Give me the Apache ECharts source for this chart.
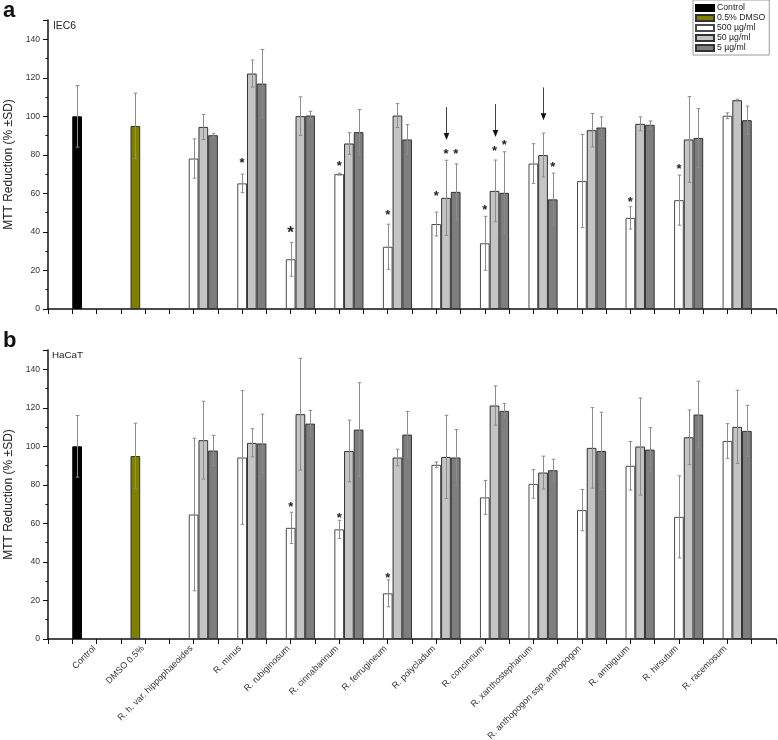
<!DOCTYPE html>
<html>
<head>
<meta charset="utf-8">
<script src="https://cdn.jsdelivr.net/npm/echarts@6/dist/echarts.min.js"></script>
<style>
html,body{margin:0;padding:0;background:#fff;}
#chart{width:778px;height:740px;}
</style>
</head>
<body>
<div id="chart"></div>
<script>
// ---------------- DATA ----------------
const categories = ['Control', 'DMSO 0.5%', 'R. h. var. hippophaeoides', 'R. minus', 'R. rubiginosum',
  'R. cinnabarinum', 'R. ferrugineum', 'R. polycladum', 'R. concinnum', 'R. xanthostephanum',
  'R. anthopogon ssp. anthopogon', 'R. ambiguum', 'R. hirsutum', 'R. racemosum'];
const seriesNames = ['Control', '0.5% DMSO', '500 µg/ml', '50 µg/ml', '5 µg/ml'];
const yTicks = [0, 20, 40, 60, 80, 100, 120, 140];

// Panel a: IEC6
const iecControl    = [100, null, null, null, null, null, null, null, null, null, null, null, null, null];
const iecControlErr = [16, null, null, null, null, null, null, null, null, null, null, null, null, null];
const iecDmso       = [null, 95, null, null, null, null, null, null, null, null, null, null, null, null];
const iecDmsoErr    = [null, 17, null, null, null, null, null, null, null, null, null, null, null, null];
const iec500    = [null, null, 78.1, 65.2, 25.8, 70.0, 32.3, 44.1, 34.1, 75.5, 66.4, 47.3, 56.5, 100.3];
const iec500Err = [null, null, 10.2, 4.8, 8.8, 0.5, 11.7, 6.2, 14.0, 10.3, 24.2, 5.8, 13.0, 1.5];
const iec50     = [null, null, 94.5, 122.2, 100.1, 85.9, 100.4, 57.7, 61.3, 79.9, 92.8, 96.1, 88.0, 108.4];
const iec50Err  = [null, null, 6.5, 7.0, 10.0, 5.6, 6.2, 19.5, 16.0, 11.4, 8.7, 3.6, 22.3, 0.5];
const iec5      = [null, null, 90.2, 117.0, 100.4, 91.8, 88.0, 60.8, 60.3, 56.9, 94.2, 95.6, 88.8, 98.0];
const iec5Err   = [null, null, 1.0, 17.7, 2.2, 11.7, 7.7, 14.5, 21.3, 13.6, 5.5, 2.0, 15.3, 7.3];
// asterisk positions (value at asterisk centre), null = no asterisk
const iecStar500 = [null, null, null, 77.6, 41.8, 75.9, 50.5, 60.3, 53.0, null, null, 57.2, 74.3, null];
const iecStar500Big = [0, 0, 0, 0, 1, 0, 0, 0, 0, 0, 0, 0, 0, 0];
const iecStar50  = [null, null, null, null, null, null, null, 81.9, 83.6, null, null, null, null, null];
const iecStar5   = [null, null, null, null, null, null, null, 81.9, 86.8, 75.2, null, null, null, null];
// arrows above 50 µg/ml bars: [category index, tail value, tip value]
const iecArrows = [[7, 104.8, 87.7], [8, 106.4, 89.3], [9, 115.0, 98.0]];

// Panel b: HaCaT
const hacControl    = [100, null, null, null, null, null, null, null, null, null, null, null, null, null];
const hacControlErr = [16, null, null, null, null, null, null, null, null, null, null, null, null, null];
const hacDmso       = [null, 95, null, null, null, null, null, null, null, null, null, null, null, null];
const hacDmsoErr    = [null, 17, null, null, null, null, null, null, null, null, null, null, null, null];
const hac500    = [null, null, 64.6, 94.2, 57.7, 56.9, 23.7, 90.4, 73.5, 80.5, 66.9, 89.9, 63.4, 102.8];
const hac500Err = [null, null, 39.6, 34.7, 8.1, 4.7, 7.0, 1.5, 8.8, 7.4, 10.7, 12.6, 21.3, 9.0];
const hac50     = [null, null, 103.2, 101.8, 116.7, 97.6, 94.2, 94.5, 121.2, 86.4, 99.2, 99.9, 104.7, 110.1];
const hac50Err  = [null, null, 20.2, 7.3, 29.0, 16.0, 4.3, 21.6, 10.2, 8.5, 20.9, 25.2, 14.2, 19.0];
const hac5      = [null, null, 97.8, 101.5, 111.8, 108.7, 106.1, 94.2, 118.4, 87.6, 97.6, 98.3, 116.5, 108.0];
const hac5Err   = [null, null, 7.9, 15.2, 6.8, 24.3, 12.0, 14.5, 3.8, 5.7, 20.1, 11.4, 17.3, 13.3];
const hacStar500 = [null, null, null, null, 70.0, 64.6, 33.5, null, null, null, null, null, null, null];

// ---------------- STYLES ----------------
const FONT = '"Liberation Sans", Arial, Helvetica, sans-serif';
const barStyles = [
  {color: '#000000', borderColor: '#000000', borderWidth: 1},
  {color: '#808000', borderColor: '#333333', borderWidth: 1},
  {color: '#ffffff', borderColor: '#4a4a4a', borderWidth: 1},
  {color: '#c4c4c4', borderColor: '#333333', borderWidth: 1},
  {color: '#7e7e7e', borderColor: '#333333', borderWidth: 1}
];

const pad = arr => [null].concat(arr, [null]);   // blank end categories
const axisCats = pad(categories.slice()).map(v => v === null ? '' : v);

function errRender(params, api) {
  const cat = api.value(0), v = api.value(1), e = api.value(2), slot = api.value(3);
  const bw = api.size([1, 0])[0];
  const c = api.coord([cat, v]);
  const x = Math.round(c[0] + (slot - 2) * bw / 5) + 0.5;
  const yt = api.coord([cat, v + e])[1];
  const yb = api.coord([cat, v - e])[1];
  const cap = 1.8;
  const st = {stroke: '#8c8c8c', lineWidth: 1};
  return {type: 'group', children: [
    {type: 'line', shape: {x1: x, y1: yt, x2: x, y2: yb}, style: st},
    {type: 'line', shape: {x1: x - cap, y1: yt, x2: x + cap, y2: yt}, style: st},
    {type: 'line', shape: {x1: x - cap, y1: yb, x2: x + cap, y2: yb}, style: st}
  ]};
}
function starRender(params, api) {
  const cat = api.value(0), v = api.value(1), slot = api.value(2), big = api.value(3);
  const bw = api.size([1, 0])[0];
  const c = api.coord([cat, v]);
  const x = c[0] + (slot - 2) * bw / 5;
  const fs = big ? 17 : 13;
  return {type: 'text', x: x, y: c[1] + fs * 0.28,
    style: {text: '*', fontSize: fs, fontWeight: 'bold', fontFamily: FONT, fill: '#222',
      align: 'center', verticalAlign: 'middle'}};
}
function arrowRender(params, api) {
  const cat = api.value(0), tail = api.value(1), tip = api.value(2), slot = api.value(3);
  const bw = api.size([1, 0])[0];
  const x = Math.round(api.coord([cat, tail])[0] + (slot - 2) * bw / 5) + 0.5;
  const yTail = api.coord([cat, tail])[1];
  const yTip = api.coord([cat, tip])[1];
  const hl = 7, hw = 2.8;
  return {type: 'group', children: [
    {type: 'line', shape: {x1: x, y1: yTail, x2: x, y2: yTip - hl + 1}, style: {stroke: '#444', lineWidth: 1}},
    {type: 'polygon', shape: {points: [[x - hw, yTip - hl], [x + hw, yTip - hl], [x, yTip]]}, style: {fill: '#111'}}
  ]};
}

function buildPanel(gi, vals, errs, stars, bigs, arrows) {
  const catAxis = gi * 2, valAxis = gi;
  const out = [];
  vals.forEach((arr, s) => {
    out.push({
      type: 'bar', name: seriesNames[s], xAxisIndex: catAxis, yAxisIndex: valAxis,
      data: pad(arr), barGap: '0%', barCategoryGap: '0%', itemStyle: barStyles[s],
      silent: true, z: 2
    });
  });
  const errData = [];
  vals.forEach((arr, s) => arr.forEach((v, i) => {
    if (v !== null && errs[s][i] !== null) errData.push([i + 1, v, errs[s][i], s]);
  }));
  out.push({type: 'custom', xAxisIndex: catAxis, yAxisIndex: valAxis, renderItem: errRender,
    data: errData, silent: true, z: 3});
  const starData = [];
  stars.forEach((arr, s) => {
    if (!arr) return;
    arr.forEach((v, i) => { if (v !== null) starData.push([i + 1, v, s, (bigs[s] && bigs[s][i]) ? 1 : 0]); });
  });
  out.push({type: 'custom', xAxisIndex: catAxis, yAxisIndex: valAxis, renderItem: starRender,
    data: starData, silent: true, z: 4});
  if (arrows.length) {
    out.push({type: 'custom', xAxisIndex: catAxis, yAxisIndex: valAxis, renderItem: arrowRender,
      data: arrows.map(a => [a[0] + 1, a[1], a[2], 3]), silent: true, z: 4});
  }
  return out;
}

const series = [].concat(
  buildPanel(0, [iecControl, iecDmso, iec500, iec50, iec5],
    [iecControlErr, iecDmsoErr, iec500Err, iec50Err, iec5Err],
    [null, null, iecStar500, iecStar50, iecStar5], [null, null, iecStar500Big, null, null], iecArrows),
  buildPanel(1, [hacControl, hacDmso, hac500, hac50, hac5],
    [hacControlErr, hacDmsoErr, hac500Err, hac50Err, hac5Err],
    [null, null, hacStar500, null, null], [null, null, null, null, null], [])
);

function yAxisFor(gi) {
  return {
    type: 'value', gridIndex: gi, min: 0, max: 150, interval: 20, position: 'left',
    name: 'MTT Reduction (% ±SD)', nameLocation: 'middle', nameGap: 25,
    nameTextStyle: {fontSize: 12, color: '#222', fontFamily: FONT},
    axisLine: {show: true, onZero: false, lineStyle: {color: '#111', width: 1.5}},
    axisTick: {show: true, length: 5, lineStyle: {color: '#111', width: 1}},
    minorTick: {show: true, splitNumber: 2, length: 2.5, lineStyle: {color: '#111', width: 1}},
    axisLabel: {fontSize: 8.6, color: '#333', fontFamily: FONT, margin: 8, showMaxLabel: false,
      formatter: v => yTicks.indexOf(v) >= 0 ? String(v) : ''},
    splitLine: {show: false}
  };
}
function catAxisFor(gi, showLabels) {
  return {
    type: 'category', gridIndex: gi, data: axisCats, boundaryGap: false, position: 'bottom',
    axisLine: {show: false, onZero: false}, axisTick: {show: false},
    axisLabel: {show: showLabels, interval: 0, rotate: 45, fontSize: 9, color: '#333',
      fontFamily: FONT, margin: 6, padding: [0, 3, 0, 0]},
    splitLine: {show: false}
  };
}
function tickAxisFor(gi) {
  return {
    type: 'value', gridIndex: gi, min: -1, max: 14, interval: 0.5, position: 'bottom',
    axisLine: {show: true, onZero: false, lineStyle: {color: '#111', width: 1.5}},
    axisTick: {show: true, length: 5, lineStyle: {color: '#111', width: 1}},
    axisLabel: {show: false}, splitLine: {show: false}
  };
}

const option = {
  animation: false,
  backgroundColor: '#fff',
  textStyle: {fontFamily: FONT},
  grid: [
    {left: 48, top: 20, width: 728, height: 289, containLabel: false, outerBoundsMode: 'none'},
    {left: 48, top: 350, width: 728, height: 289, containLabel: false, outerBoundsMode: 'none'}
  ],
  xAxis: [catAxisFor(0, false), tickAxisFor(0), catAxisFor(1, true), tickAxisFor(1)],
  yAxis: [yAxisFor(0), yAxisFor(1)],
  legend: {
    data: seriesNames, orient: 'vertical', left: 693, top: 0,
    backgroundColor: '#fff', borderColor: '#9a9a9a', borderWidth: 1, borderRadius: 0,
    padding: [3, 4, 2, 2], itemGap: 0, itemWidth: 18, itemHeight: 6,
    selectedMode: false, icon: 'rect',
    textStyle: {fontSize: 8.7, color: '#222', fontFamily: FONT, lineHeight: 10, padding: [0, 0, 0, -2]}
  },
  graphic: [
    {type: 'text', left: 3, top: 0, style: {text: 'a', fontSize: 22, fontWeight: 'bold', fontFamily: FONT, fill: '#111'}},
    {type: 'text', left: 3, top: 330, style: {text: 'b', fontSize: 22, fontWeight: 'bold', fontFamily: FONT, fill: '#111'}},
    {type: 'text', left: 53, top: 21, style: {text: 'IEC6', fontSize: 10.3, fontFamily: FONT, fill: '#222'}},
    {type: 'text', left: 52, top: 350, style: {text: 'HaCaT', fontSize: 9.8, fontFamily: FONT, fill: '#222'}}
  ],
  series: series
};

const chart = echarts.init(document.getElementById('chart'), null, {renderer: 'canvas'});
chart.setOption(option);
</script>
</body>
</html>
